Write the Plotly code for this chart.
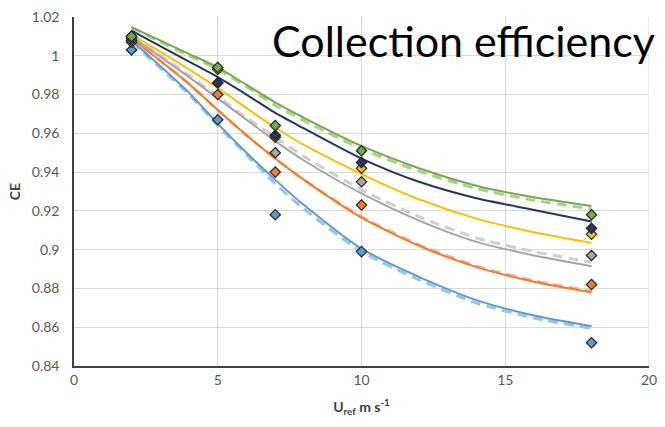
import plotly.graph_objects as go

# measured points
x_pts = [2, 5, 7, 10, 18]
pts_blue = [1.003, 0.967, 0.918, 0.899, 0.852]
pts_orange = [1.007, 0.980, 0.940, 0.923, 0.882]
pts_gray = [1.008, 0.986, 0.950, 0.935, 0.897]
pts_yellow = [1.009, 0.993, 0.958, 0.942, 0.908]
pts_navy = [1.010, 0.986, 0.959, 0.945, 0.911]
pts_green = [1.010, 0.994, 0.964, 0.951, 0.918]

# fitted curves (solid)
x_fit = [2, 4, 5, 6, 7, 8, 10, 12, 14, 16, 18]
fit_blue = [1.008, 0.981, 0.965, 0.950, 0.936, 0.923, 0.9005, 0.886, 0.874, 0.866, 0.8605]
fit_orange = [1.009, 0.9855, 0.972, 0.959, 0.947, 0.936, 0.9165, 0.902, 0.891, 0.8835, 0.878]
fit_gray = [1.010, 0.989, 0.978, 0.967, 0.956, 0.946, 0.929, 0.915, 0.904, 0.897, 0.8915]
fit_yellow = [1.011, 0.993, 0.9835, 0.973, 0.963, 0.954, 0.939, 0.926, 0.916, 0.909, 0.9035]
fit_navy = [1.013, 0.997, 0.989, 0.980, 0.9705, 0.9625, 0.947, 0.935, 0.9265, 0.9205, 0.9145]
fit_green = [1.0148, 1.001, 0.994, 0.985, 0.976, 0.968, 0.9535, 0.942, 0.933, 0.927, 0.9225]

# fitted curves (dashed)
dfit_blue = [1.007, 0.980, 0.964, 0.949, 0.934, 0.921, 0.899, 0.8845, 0.8725, 0.8648, 0.8595]
dfit_orange = [1.009, 0.9855, 0.972, 0.959, 0.947, 0.936, 0.917, 0.9025, 0.8915, 0.884, 0.8785]
dfit_gray = [1.010, 0.990, 0.979, 0.968, 0.958, 0.948, 0.931, 0.917, 0.906, 0.899, 0.8935]
dfit_green = [1.0145, 1.000, 0.993, 0.984, 0.9745, 0.9665, 0.952, 0.9405, 0.9315, 0.9255, 0.921]

colors = {
    "blue": "#5B9BD5", "orange": "#ED7D31", "gray": "#A5A5A5",
    "yellow": "#FFC000", "navy": "#1F3864", "green": "#70AD47",
}
dash_colors = {
    "blue": "#9DC3E6", "orange": "#F4B183", "gray": "#CFCFCF", "green": "#A9D18E",
}

fig = go.Figure()

dashed = {"blue": dfit_blue, "orange": dfit_orange, "gray": dfit_gray, "green": dfit_green}
for k, ys in dashed.items():
    fig.add_trace(go.Scatter(x=x_fit, y=ys, mode="lines",
                             line=dict(color=dash_colors[k], width=3, dash="10px,6px", shape="spline", smoothing=0.7),
                             showlegend=False, hoverinfo="skip"))

solid = {"blue": fit_blue, "orange": fit_orange, "gray": fit_gray, "yellow": fit_yellow, "navy": fit_navy, "green": fit_green}
for k, ys in solid.items():
    fig.add_trace(go.Scatter(x=x_fit, y=ys, mode="lines",
                             line=dict(color=colors[k], width=2, shape="spline", smoothing=0.7), showlegend=False))

pts = {"blue": pts_blue, "orange": pts_orange, "gray": pts_gray, "yellow": pts_yellow, "navy": pts_navy, "green": pts_green}
for k, ys in pts.items():
    fig.add_trace(go.Scatter(x=x_pts, y=ys, mode="markers",
                             marker=dict(symbol="diamond", size=8, color=colors[k], line=dict(color="#262626", width=1.2)),
                             showlegend=False))

fig.update_layout(
    width=665, height=427,
    margin=dict(l=74, r=8, t=17, b=61),
    paper_bgcolor="white", plot_bgcolor="white",
    font=dict(family="Lato", color="#595959", size=14),
    annotations=[dict(text="Collection efficiency", x=1.0, y=1.0, xref="paper", yref="paper",
                      xanchor="right", yanchor="top", showarrow=False, yshift=4, xshift=8,
                      font=dict(family="Lato", size=43, color="#000000"))],
)
fig.update_xaxes(range=[0, 20], tickvals=[0, 5, 10, 15, 20], showgrid=True, gridcolor="#D9D9D9", gridwidth=1,
                 showline=True, linecolor="#404040", linewidth=1.5, zeroline=False, ticks="",
                 ticklabeloverflow="allow",
                 title=dict(text="<b>U<sub>ref</sub> m s<sup>-1</sup></b>", font=dict(size=14, color="#404040"), standoff=16))
fig.update_yaxes(range=[0.84, 1.02], tickvals=[0.84, 0.86, 0.88, 0.9, 0.92, 0.94, 0.96, 0.98, 1.0, 1.02],
                 ticktext=["0.84", "0.86", "0.88", "0.9", "0.92", "0.94", "0.96", "0.98", "1", "1.02"],
                 showgrid=True, gridcolor="#D9D9D9", gridwidth=1, showline=True, linecolor="#404040", linewidth=1.5,
                 zeroline=False, ticks="", ticklabelstandoff=10, ticklabeloverflow="allow",
                 title=dict(text="<b>CE</b>", font=dict(size=14, color="#404040"), standoff=8))
fig.update_layout(shapes=[dict(type="line", xref="x", yref="y", x0=20, x1=20, y0=0.84, y1=1.02,
                               line=dict(color="#D9D9D9", width=1), layer="below")])

fig.write_html("out.html")
